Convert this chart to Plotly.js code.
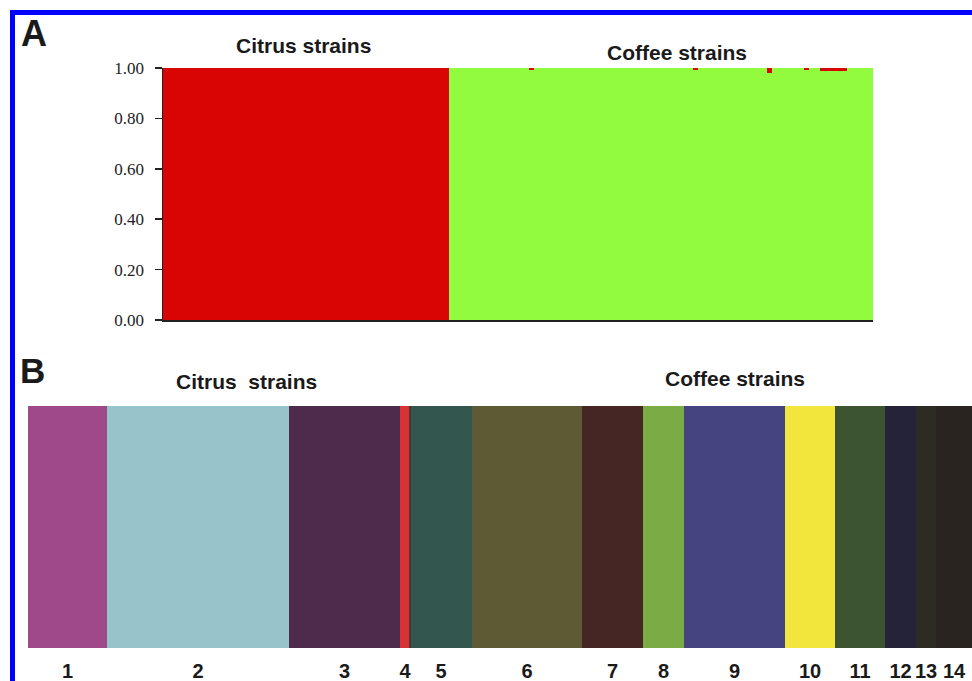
<!DOCTYPE html>
<html>
<head>
<meta charset="utf-8">
<script src="https://cdn.plot.ly/plotly-3.0.1.min.js"></script>
<style>html,body{margin:0;padding:0;background:#fff;}#chart{width:972px;height:681px;}</style>
</head>
<body>
<div id="chart"></div>
<script>
// ---------- Panel A data: STRUCTURE membership (red cluster = citrus) ----------
var citrusRed = [1,1,1,1,1,1,1,1,1,1,1,1,1,1,1,1,1,1,1,1,1,1,1,1,1,1,1,
                 1,1,1,1,1,1,1,1,1,1,1,1,1,1,1,1,1,1,1,1,1,1,1,1,1,1,1];
var coffeeRed = [0,0,0,0,0,0,0,0,0,0,0,0,0,0,0,0.008,0,0,0,0,
                 0,0,0,0,0,0,0,0,0,0,0,0,0,0,0,0,0,0,0,0,
                 0,0,0,0,0,0,0.008,0,0,0,0,0,0,0,0,0,0,0,0,0,
                 0.02,0,0,0,0,0,0,0.008,0,0,0.01,0.01,0.01,0.01,0.01,0,0,0,0,0];
var yTickVals = [0, 0.2, 0.4, 0.6, 0.8, 1.0];
var yTickText = ["0.00", "0.20", "0.40", "0.60", "0.80", "1.00"];
var clusterColors = {red: "#d90505", green: "#93fb3e"};

// ---------- Panel B data: groups ----------
var groupLabels = ["1","2","3","4","5","6","7","8","9","10","11","12","13","14"];
var groupWidths = [79, 182, 111, 10, 62, 110, 61, 41, 101, 50, 50, 31, 20, 36];
var groupColors = ["#a0498a","#97c4cb","#4e2b4c","#d93232","#33574f","#5e5a33","#452624",
                   "#7bab45","#444480","#f2e63c","#3c5530","#25233a","#2c2c22","#2a2420"];
var citrusGroupCount = 4;

// ---------- build traces ----------
var redA = citrusRed.concat(coffeeRed);
var greenA = redA.map(function(v){ return 1 - v; });
var idxA = redA.map(function(_, i){ return i + 1; });

var centers = [], cum = 0, boundary = 0;
groupWidths.forEach(function(w, i){
  centers.push(cum + w / 2);
  cum += w;
  if (i === citrusGroupCount - 1) boundary = cum;
});
var totalWidth = cum;

var W = 972, H = 681;
function px(x){ return x / W; }
function py(y){ return 1 - y / H; }

var traces = [
  {type: "bar", x: idxA, y: greenA, xaxis: "x", yaxis: "y",
   marker: {color: clusterColors.green, line: {width: 0}}, hoverinfo: "skip"},
  {type: "bar", x: idxA, y: redA, xaxis: "x", yaxis: "y",
   marker: {color: clusterColors.red, line: {width: 0}}, hoverinfo: "skip"},
  {type: "bar", x: centers, y: groupWidths.map(function(){ return 1; }), width: groupWidths,
   xaxis: "x2", yaxis: "y2",
   marker: {color: groupColors, line: {width: 0}}, hoverinfo: "skip"}
];

var sans = "Liberation Sans, Arial, sans-serif";
function label(text, x, y, size){
  return {text: text, xref: "paper", yref: "paper", x: px(x), y: py(y),
          xanchor: "center", yanchor: "middle", showarrow: false,
          font: {family: sans, size: size, color: "#1a1a1a", weight: "bold"}};
}

var layout = {
  width: W, height: H,
  margin: {l: 0, r: 0, t: 0, b: 0},
  paper_bgcolor: "#ffffff", plot_bgcolor: "#ffffff",
  showlegend: false,
  barmode: "stack", bargap: 0,
  xaxis: {domain: [px(163), px(873)], range: [0.5, redA.length + 0.5],
          showgrid: false, zeroline: false, showticklabels: false, ticks: "",
          showline: true, linecolor: "#222", linewidth: 2, fixedrange: true},
  yaxis: {domain: [py(320), py(68)], range: [0, 1],
          tickvals: yTickVals, ticktext: yTickText,
          ticks: "outside", ticklen: 7, tickwidth: 1.5, tickcolor: "#222",
          ticklabelstandoff: 7,
          tickfont: {family: "Liberation Serif, Times New Roman, serif", size: 17, color: "#222"},
          showgrid: false, zeroline: false, showline: true, linecolor: "#222", linewidth: 1.5,
          fixedrange: true},
  xaxis2: {domain: [px(28), 1], range: [0, totalWidth], anchor: "y2",
           tickvals: centers, ticktext: groupLabels, ticks: "",
           ticklabelstandoff: 9,
           tickfont: {family: sans, size: 20, color: "#1a1a1a", weight: "bold"},
           showgrid: false, zeroline: false, showline: false, fixedrange: true},
  yaxis2: {domain: [py(648), py(406)], range: [0, 1], anchor: "x2",
           showgrid: false, zeroline: false, showticklabels: false, ticks: "", showline: false,
           fixedrange: true},
  shapes: [
    {type: "rect", xref: "paper", yref: "paper", x0: px(10), x1: 1, y0: py(15), y1: py(10),
     fillcolor: "#0000ff", line: {width: 0}},
    {type: "rect", xref: "paper", yref: "paper", x0: px(10), x1: px(15), y0: 0, y1: py(10),
     fillcolor: "#0000ff", line: {width: 0}},
    {type: "line", xref: "x2", yref: "y2", x0: boundary, x1: boundary, y0: -0.06, y1: 1.06,
     line: {color: "#333", width: 1.5}}
  ],
  annotations: [
    label("A", 34, 34, 36),
    label("Citrus strains", 303, 46, 21),
    label("Coffee strains", 677, 53, 21),
    label("B", 32, 370, 35),
    label("Citrus&nbsp; strains", 246, 381, 21),
    label("Coffee strains", 735, 378, 21)
  ]
};

Plotly.newPlot("chart", traces, layout, {displayModeBar: false, staticPlot: true});
</script>
</body>
</html>
